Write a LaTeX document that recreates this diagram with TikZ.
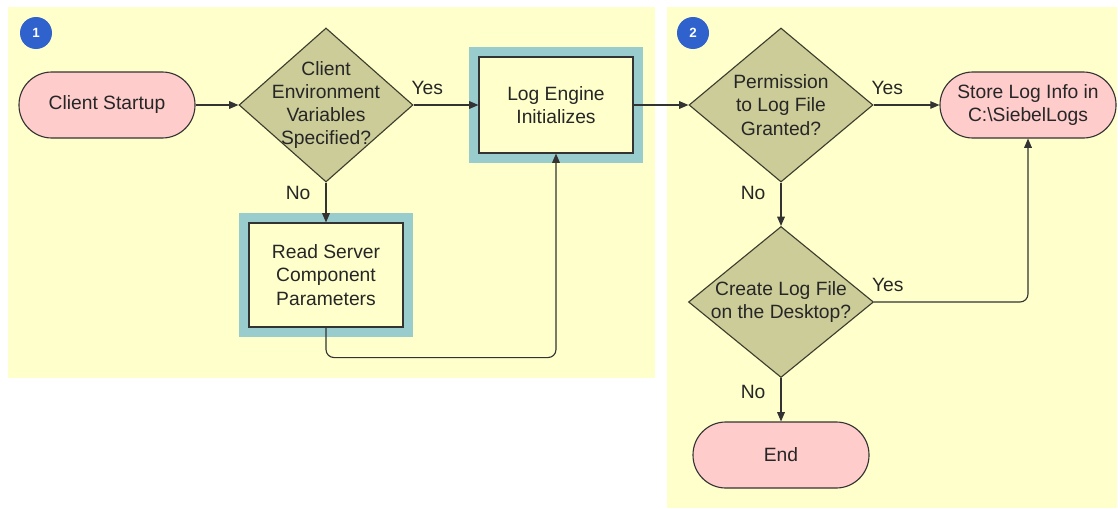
\documentclass[tikz,border=0pt]{standalone}
\usepackage{fontspec}
\setmainfont{Liberation Sans}
\usepackage{tikz}
\usetikzlibrary{arrows.meta,shapes,positioning,calc}

\definecolor{panelYellow}{HTML}{FFFFCC}
\definecolor{startPink}{HTML}{FFCCCC}
\definecolor{decisionOlive}{HTML}{CCCC99}
\definecolor{frameTeal}{HTML}{99CCCC}
\definecolor{badgeBlue}{HTML}{2F62CC}
\definecolor{lineGrey}{HTML}{333333}

\begin{document}
\begin{tikzpicture}[->,>={Triangle[length=2.3mm,width=1.9mm]},
line width=0.8pt, draw=lineGrey, text=black!85,
node distance=5cm,
font=\fontsize{13.7}{16.5}\selectfont]
\tikzset{
	terminal/.style={
		rectangle, rounded corners=0.82cm,
		minimum width=4.4cm, minimum height=1.65cm,
		fill=startPink, draw=lineGrey, align=center
	},
	decision/.style={
		diamond, fill=decisionOlive, draw=black!70!decisionOlive,
		inner sep=0pt
	},
	procbox/.style={
		rectangle, fill=panelYellow, draw=lineGrey,
		minimum width=3.85cm, align=center,
		preaction={draw=frameTeal, line width=0.5cm}
	},
	badge/.style={
		circle, fill=badgeBlue, draw=none, text=white,
		minimum size=0.8cm, inner sep=0pt,
		font=\fontsize{9.5}{10}\selectfont\bfseries
	},
	yeslabel/.style={pos=0, anchor=south west, inner sep=1pt, yshift=0.21cm},
	nolabel/.style={pos=0, anchor=north east, inner sep=1pt, xshift=-0.34cm, yshift=-0.05cm}
}
\useasboundingbox (0,0) rectangle (27.95,-12.7);

%---------------- panels ------------
\fill[panelYellow] (0.2,-0.175) rectangle (16.375,-9.45);
\fill[panelYellow] (16.675,-0.175) rectangle (27.925,-12.7);

\node[badge] (B1) at (0.9,-0.825) {1};
\node[badge] (B2) at (17.325,-0.825) {2};

%---------------- client side ------------
\node[terminal] (START) at (2.675,-2.625) {Client Startup};

\node[decision, minimum width=4.35cm, minimum height=3.85cm,
label={[align=center]center:Client\\Environment\\Variables\\Specified?}]
(D1) [node distance=5.475cm, right of=START] {};

\node[procbox, minimum height=2.4cm]
(LOG) [node distance=5.75cm, right of=D1] {Log Engine\\Initializes};

\node[procbox, minimum height=2.6cm]
(READ) [node distance=4.25cm, below of=D1] {Read Server\\Component\\Parameters};

%---------------- log file ------------
\node[decision, minimum width=4.6cm, minimum height=3.85cm,
label={[align=center]center:Permission\\to Log File\\Granted?}]
(D2) [node distance=5.625cm, right of=LOG] {};

\node[terminal] (STORE) [node distance=6.175cm, right of=D2] {Store Log Info in\\C:\textbackslash SiebelLogs};

\node[decision, minimum width=4.625cm, minimum height=3.775cm,
label={[align=center]center:Create Log File\\on the Desktop?}]
(D3) [node distance=4.925cm, below of=D2] {};

\node[terminal] (END) [node distance=3.825cm, below of=D3] {End};

%---------------- connectors ------------
\draw (START.east) -- (D1.west);
\draw (D1.east) -- node[yeslabel, xshift=-0.1cm] {Yes} (LOG.west);
\draw (D1.south) -- node[nolabel] {No} (READ.north);
\draw[rounded corners=0.2cm] (READ.south) -- ++(0,-0.75) -| (LOG.south);
\draw (LOG.east) -- (D2.west);
\draw (D2.east) -- node[yeslabel, xshift=-0.1cm] {Yes} (STORE.west);
\draw (D2.south) -- node[nolabel] {No} (D3.north);
\draw[rounded corners=0.2cm] (D3.east) -| node[yeslabel, xshift=-0.1cm] {Yes} (STORE.south);
\draw (D3.south) -- node[nolabel, yshift=-0.08cm] {No} (END.north);

\end{tikzpicture}
\end{document}
